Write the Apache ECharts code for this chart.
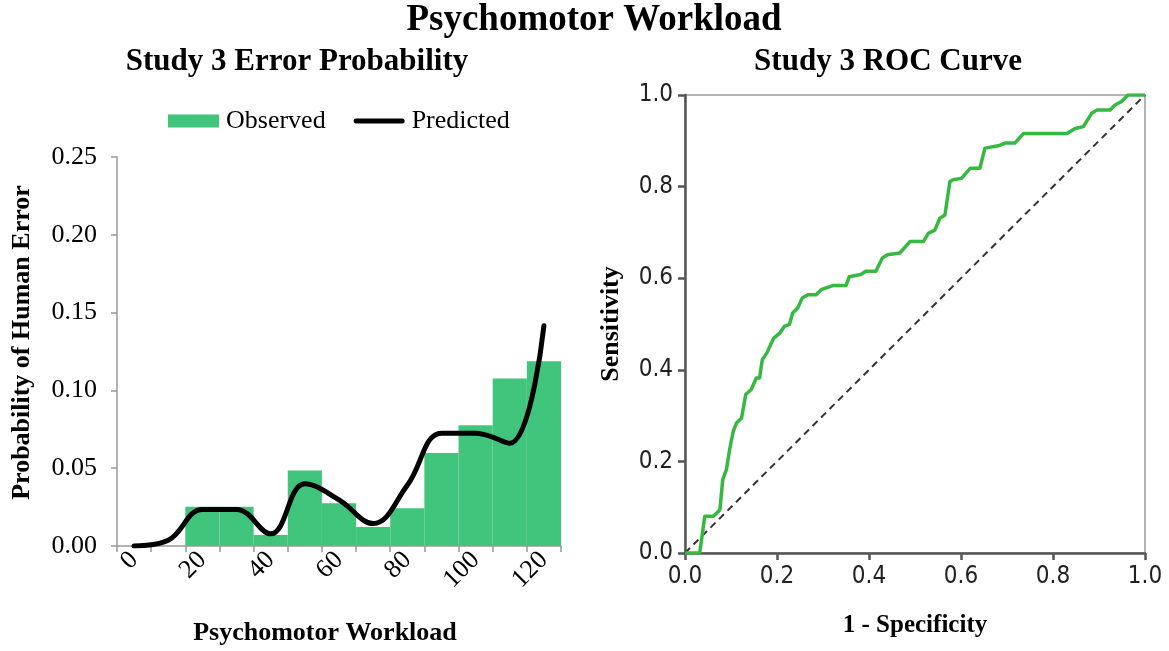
<!DOCTYPE html>
<html>
<head>
<meta charset="utf-8">
<script src="https://cdn.jsdelivr.net/npm/echarts@6/dist/echarts.min.js"></script>
<style>
  html, body { margin: 0; padding: 0; background: #fff; }
  #chart { width: 1169px; height: 651px; }
</style>
</head>
<body>
<div id="chart"></div>
<script>
// ---- Data ----
const workloadCategories = ['0','10','20','30','40','50','60','70','80','90','100','110','120'];
const observedProb = [0, 0, 0.0253, 0.0253, 0.0070, 0.0485, 0.0274, 0.0122, 0.0243, 0.0597, 0.0776, 0.1076, 0.1188];
const predictedProb = [0.000, 0.0037, 0.0235, 0.0235, 0.0078, 0.040, 0.0297, 0.0144, 0.039, 0.0725, 0.0725, 0.066, 0.1416];
const probTicks = [0, 0.05, 0.10, 0.15, 0.20, 0.25];

// ROC curve (1 - specificity, sensitivity)
const rocFpr = [0, 0.032, 0.043, 0.061, 0.069, 0.076, 0.082, 0.090, 0.097, 0.105,
                0.112, 0.123, 0.132, 0.144, 0.155, 0.162, 0.168, 0.178, 0.188, 0.193,
                0.206, 0.216, 0.227, 0.234, 0.245, 0.255, 0.267, 0.285, 0.296, 0.307,
                0.321, 0.350, 0.357, 0.382, 0.393, 0.415, 0.429, 0.440, 0.467, 0.489,
                0.518, 0.529, 0.543, 0.554, 0.565, 0.576, 0.583, 0.601, 0.620, 0.641,
                0.652, 0.681, 0.696, 0.717, 0.736, 0.830, 0.848, 0.866, 0.884, 0.895,
                0.924, 0.935, 0.949, 0.963, 1.0];
const rocTpr = [0, 0, 0.080, 0.080, 0.087, 0.095, 0.160, 0.182, 0.226, 0.266,
                0.284, 0.295, 0.346, 0.357, 0.382, 0.382, 0.422, 0.437, 0.459, 0.469,
                0.480, 0.495, 0.499, 0.524, 0.535, 0.557, 0.564, 0.564, 0.575, 0.579,
                0.584, 0.584, 0.603, 0.608, 0.615, 0.615, 0.644, 0.651, 0.655, 0.680,
                0.680, 0.698, 0.705, 0.731, 0.738, 0.811, 0.815, 0.818, 0.840, 0.840,
                0.884, 0.889, 0.895, 0.895, 0.916, 0.916, 0.927, 0.931, 0.960, 0.967,
                0.967, 0.978, 0.986, 1.0, 1.0];
const refLine = [[0, 0], [1, 1]];
const rocTicks = [0, 0.2, 0.4, 0.6, 0.8, 1.0];

// ---- Chart ----
const serif = '"Liberation Serif", "Times New Roman", serif';
const narrow = '"Liberation Sans Narrow", "Arial Narrow", "DejaVu Sans Condensed", sans-serif';
const rocData = rocFpr.map((x, i) => [x, rocTpr[i]]);

const chart = echarts.init(document.getElementById('chart'), null, { renderer: 'canvas' });
chart.setOption({
  animation: false,
  backgroundColor: '#ffffff',
  title: [
    { text: 'Psychomotor Workload', left: 589, textAlign: 'center', top: -3,
      textStyle: { fontFamily: serif, fontWeight: 'bold', fontSize: 37, color: '#000' } },
    { text: 'Study 3 Error Probability', left: 292, textAlign: 'center', top: 41,
      textStyle: { fontFamily: serif, fontWeight: 'bold', fontSize: 31, color: '#000' } },
    { text: 'Study 3 ROC Curve', left: 883, textAlign: 'center', top: 41,
      textStyle: { fontFamily: serif, fontWeight: 'bold', fontSize: 31, color: '#000' } }
  ],
  legend: {
    left: 168, top: 108, padding: 0,
    itemWidth: 51, itemHeight: 13, itemGap: 28,
    textStyle: { fontFamily: serif, fontSize: 26, color: '#000', padding: [0, 0, 0, 2] },
    data: [
      { name: 'Observed', icon: 'rect' },
      { name: 'Predicted', icon: 'path://M2.5,0 L48.5,0 A2.5,2.5 0 0 1 48.5,5 L2.5,5 A2.5,2.5 0 0 1 2.5,0 Z' }
    ]
  },
  grid: [
    { left: 117, top: 157, width: 444, height: 395, containLabel: false },
    { left: 685, top: 95, width: 460, height: 458, containLabel: false,
      show: true, borderColor: '#b4b4b4', borderWidth: 2, backgroundColor: 'transparent' }
  ],
  xAxis: [
    {
      gridIndex: 0, type: 'category', data: workloadCategories, boundaryGap: true,
      name: 'Psychomotor Workload', nameLocation: 'middle', nameGap: 74,
      nameTextStyle: { fontFamily: serif, fontWeight: 'bold', fontSize: 26, color: '#000', padding: [0, 28, 0, 0] },
      axisLine: { lineStyle: { color: '#999', width: 1.5 } },
      axisTick: { show: true, interval: 0, length: 6, lineStyle: { color: '#999', width: 1.5 } },
      axisLabel: { interval: 1, rotate: 45, margin: 10, fontFamily: serif, fontSize: 26, color: '#000' },
      splitLine: { show: false }
    },
    {
      gridIndex: 1, type: 'value', min: 0, max: 1, interval: 0.2,
      name: '1 - Specificity', nameLocation: 'middle', nameGap: 60,
      nameTextStyle: { fontFamily: serif, fontWeight: 'bold', fontSize: 25, color: '#000' },
      axisLine: { lineStyle: { color: '#555', width: 2.5 } },
      axisTick: { show: true, length: 7, lineStyle: { color: '#555', width: 2.5 } },
      axisLabel: { margin: 12, fontFamily: narrow, fontSize: 24, color: '#222',
                   formatter: v => v.toFixed(1) },
      splitLine: { show: false }
    }
  ],
  yAxis: [
    {
      gridIndex: 0, type: 'value', min: 0, max: 0.25, interval: 0.05,
      name: 'Probability of Human Error', nameLocation: 'middle', nameGap: 82,
      nameTextStyle: { fontFamily: serif, fontWeight: 'bold', fontSize: 26, color: '#000', padding: [0, 0, 0, 18] },
      axisLine: { show: true, lineStyle: { color: '#999', width: 1.5 } },
      axisTick: { show: true, length: 6, lineStyle: { color: '#999', width: 1.5 } },
      axisLabel: { margin: 20, fontFamily: serif, fontSize: 26, color: '#000',
                   formatter: v => v.toFixed(2) },
      splitLine: { show: false }
    },
    {
      gridIndex: 1, type: 'value', min: 0, max: 1, interval: 0.2,
      name: 'Sensitivity', nameLocation: 'middle', nameGap: 61,
      nameTextStyle: { fontFamily: serif, fontWeight: 'bold', fontSize: 26, color: '#000' },
      axisLine: { show: true, lineStyle: { color: '#555', width: 2.5 } },
      axisTick: { show: true, length: 7, lineStyle: { color: '#555', width: 2.5 } },
      axisLabel: { margin: 12, fontFamily: narrow, fontSize: 24, color: '#222',
                   formatter: v => v.toFixed(1) },
      splitLine: { show: false }
    }
  ],
  series: [
    {
      name: 'Observed', type: 'bar', xAxisIndex: 0, yAxisIndex: 0,
      data: observedProb, barWidth: '100%', barCategoryGap: '0%',
      itemStyle: { color: '#41c47b' }
    },
    {
      name: 'Predicted', type: 'line', xAxisIndex: 0, yAxisIndex: 0,
      data: predictedProb, smooth: 0.4, symbol: 'none',
      lineStyle: { color: '#000', width: 5, cap: 'round' }, itemStyle: { color: '#000' }
    },
    {
      name: 'Reference', type: 'line', xAxisIndex: 1, yAxisIndex: 1,
      data: refLine, symbol: 'none', silent: true,
      lineStyle: { color: '#333', width: 2, type: [7, 5] }
    },
    {
      name: 'ROC', type: 'line', xAxisIndex: 1, yAxisIndex: 1,
      data: rocData, symbol: 'none',
      lineStyle: { color: '#35b940', width: 3.5, join: 'round' }
    }
  ]
});
</script>
</body>
</html>
